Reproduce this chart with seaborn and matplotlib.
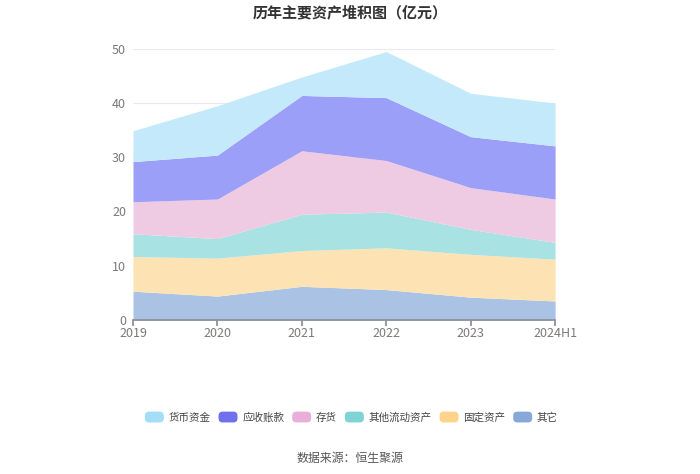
import matplotlib
matplotlib.use("Agg")
import matplotlib.pyplot as plt
from matplotlib.patches import Patch, FancyBboxPatch
from matplotlib.legend_handler import HandlerPatch
import seaborn as sns
import pandas as pd

# data (亿元)
years = ["2019", "2020", "2021", "2022", "2023", "2024H1"]
other = [5.3, 4.4, 6.2, 5.6, 4.2, 3.5]
fixed_assets = [6.4, 7.0, 6.6, 7.7, 7.9, 7.7]
other_current = [4.2, 3.6, 6.7, 6.6, 4.6, 3.1]
inventory = [5.9, 7.3, 11.7, 9.5, 7.7, 8.0]
receivables = [7.4, 8.1, 10.2, 11.6, 9.4, 9.8]
cash = [5.7, 9.1, 3.4, 8.5, 8.0, 7.9]

names = ["其它", "固定资产", "其他流动资产", "存货", "应收账款", "货币资金"]
df = pd.DataFrame(dict(zip(names, [other, fixed_assets, other_current, inventory, receivables, cash])), index=years)

fill_colors = ["#aac2e4", "#fde3b4", "#a8e2e2", "#eecbe3", "#9c9ff7", "#c3e9fb"]
legend_colors = ["#88a8d8", "#fdd48a", "#7ed4d4", "#e8b0d8", "#7070ee", "#a4ddf6"]


class RoundHandler(HandlerPatch):
    # rounded legend swatches
    def create_artists(self, legend, orig_handle, xdescent, ydescent, width, height, fontsize, trans):
        p = FancyBboxPatch((-xdescent, -ydescent), width, height,
                           boxstyle="round,pad=0,rounding_size=3",
                           facecolor=orig_handle.get_facecolor(), edgecolor="none",
                           transform=trans)
        return [p]


sns.set_theme(style="white")
plt.rcParams['font.family'] = ['Noto Sans CJK SC', 'DejaVu Sans']

fig = plt.figure(figsize=(7, 4.74), dpi=100)
ax = fig.add_axes([0.19, 0.325, 0.603, 0.572])

x = list(range(len(years)))
ax.stackplot(x, [df[n] for n in names], colors=fill_colors, linewidth=0, zorder=2)

ax.set_xlim(0, len(years) - 1)
ax.set_ylim(0, 50)
ax.set_yticks([0, 10, 20, 30, 40, 50])
ax.set_xticks(x)
ax.set_xticklabels(years)
ax.set_axisbelow(True)
ax.yaxis.grid(True, color="#e8e8ee", linewidth=0.8, zorder=0)
sns.despine(ax=ax, left=True)
ax.spines["bottom"].set_color("#8a8f9a")
ax.spines["bottom"].set_zorder(3)
ax.tick_params(axis="x", labelsize=9, length=4, direction="out", pad=1, bottom=True, color="#8a8f9a")
ax.tick_params(axis="y", labelsize=9, length=0, pad=5)
for lbl in ax.get_xticklabels() + ax.get_yticklabels():
    lbl.set_color("#7a7a7a")

fig.text(0.5, 0.975, "历年主要资产堆积图（亿元）", ha="center", va="center",
         fontsize=10.8, fontweight="bold", color="#333333")

order = list(reversed(range(len(names))))
handles = [Patch(facecolor=legend_colors[i], edgecolor="none", label=names[i]) for i in order]
leg = fig.legend(handles=handles, loc="center", bbox_to_anchor=(0.502, 0.12), ncol=6,
                 frameon=False, fontsize=7.6, handlelength=1.8, handleheight=1.2,
                 columnspacing=0.75, handletextpad=0.45,
                 handler_map={Patch: RoundHandler()})
for t in leg.get_texts():
    t.set_color("#444444")

fig.text(0.5, 0.033, "数据来源：恒生聚源", ha="center", va="center", fontsize=8.6, color="#555555")

fig.savefig("out.png", dpi=100)
